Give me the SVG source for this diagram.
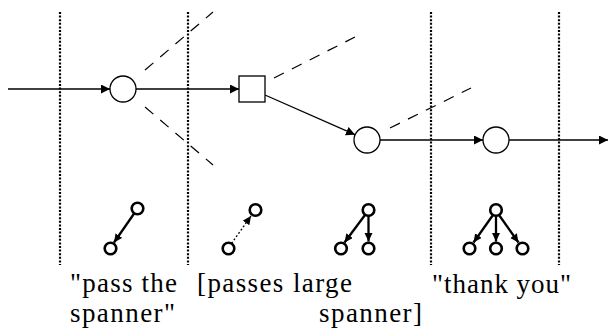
<svg xmlns="http://www.w3.org/2000/svg" width="609" height="333" viewBox="0 0 609 333">
<style>
.div{stroke:#000;stroke-width:2.2;stroke-dasharray:2 1.6;fill:none}
.edge{stroke:#000;stroke-width:1.3;fill:none}
.dash{stroke:#000;stroke-width:1.2;stroke-dasharray:11 9;fill:none}
.node{fill:#fff;stroke:#000;stroke-width:1.3}
.tn{fill:#fff;stroke:#000;stroke-width:2.6}
.ta{stroke:#000;stroke-width:2.3;fill:none}
.td{stroke:#000;stroke-width:1.3;stroke-dasharray:2 2;fill:none}
.lbl{font-family:"Liberation Serif","Times New Roman",serif;font-size:27px;fill:#000}
</style>
<defs>
<marker id="ah" markerUnits="userSpaceOnUse" markerWidth="10" markerHeight="10" refX="9" refY="4.5" orient="auto">
<path d="M0,0 L9,4.5 L0,9 z" fill="#000"/>
</marker>
<marker id="sh" markerUnits="userSpaceOnUse" markerWidth="10" markerHeight="10" refX="8.5" refY="4" orient="auto">
<path d="M0,0 L8.5,4 L0,8 z" fill="#000"/>
</marker>
</defs>
<g id="dividers">
<line class="div" x1="60" y1="12" x2="60" y2="265"/>
<line class="div" x1="188" y1="12" x2="188" y2="265"/>
<line class="div" x1="431" y1="12" x2="431" y2="265"/>
<line class="div" x1="559" y1="12" x2="559" y2="265"/>
</g>
<g id="connectors">
<line class="edge" x1="8" y1="89" x2="110" y2="89" marker-end="url(#ah)"/>
<line class="edge" x1="136" y1="89" x2="239" y2="89" marker-end="url(#ah)"/>
<line class="edge" x1="265" y1="95" x2="355" y2="134.7" marker-end="url(#ah)"/>
<line class="edge" x1="380" y1="140" x2="483" y2="140" marker-end="url(#ah)"/>
<line class="edge" x1="509" y1="140" x2="608" y2="140" marker-end="url(#ah)"/>
<line class="dash" x1="145" y1="70" x2="213" y2="12"/>
<line class="dash" x1="145" y1="107" x2="213" y2="165"/>
<line class="dash" x1="274" y1="78" x2="355" y2="37"/>
<line class="dash" x1="390" y1="128" x2="471" y2="88"/>
</g>
<g id="n1"><circle class="node" cx="123" cy="89" r="13"/></g>
<g id="n2"><rect class="node" x="239" y="76" width="26" height="26"/></g>
<g id="n3"><circle class="node" cx="367" cy="140" r="13"/></g>
<g id="n4"><circle class="node" cx="496" cy="140" r="13"/></g>
<g id="tree1">
<line class="ta" x1="134.5" y1="213" x2="114" y2="242.5" marker-end="url(#sh)"/>
<circle class="tn" cx="137.5" cy="208.5" r="5.8"/>
<circle class="tn" cx="110.5" cy="248.5" r="5.8"/>
</g>
<g id="tree2">
<line class="td" x1="231.5" y1="243.5" x2="251" y2="216" marker-end="url(#sh)"/>
<circle class="tn" cx="228.5" cy="248.5" r="5.8"/>
<circle class="tn" cx="255.5" cy="210" r="5.8"/>
</g>
<g id="tree3">
<line class="ta" x1="365" y1="215" x2="344.5" y2="242.5" marker-end="url(#sh)"/>
<line class="ta" x1="368.5" y1="216" x2="368.5" y2="241.5" marker-end="url(#sh)"/>
<circle class="tn" cx="368.5" cy="210" r="5.8"/>
<circle class="tn" cx="341" cy="248.5" r="5.8"/>
<circle class="tn" cx="368.5" cy="248.5" r="5.8"/>
</g>
<g id="tree4">
<line class="ta" x1="493" y1="215" x2="473.5" y2="242.5" marker-end="url(#sh)"/>
<line class="ta" x1="496" y1="216" x2="496" y2="241.5" marker-end="url(#sh)"/>
<line class="ta" x1="499" y1="215" x2="518.5" y2="242.5" marker-end="url(#sh)"/>
<circle class="tn" cx="496" cy="210" r="5.8"/>
<circle class="tn" cx="469.5" cy="248.5" r="5.8"/>
<circle class="tn" cx="496" cy="248.5" r="5.8"/>
<circle class="tn" cx="522.5" cy="248.5" r="5.8"/>
</g>
<g id="labels">
<text class="lbl" x="70" y="292" textLength="107" lengthAdjust="spacing">"pass the</text>
<text class="lbl" x="70" y="322" textLength="105" lengthAdjust="spacing">spanner"</text>
<text class="lbl" x="197" y="292" textLength="155" lengthAdjust="spacing">[passes large</text>
<text class="lbl" x="319" y="322" textLength="103" lengthAdjust="spacing">spanner]</text>
<text class="lbl" x="432" y="293" textLength="139" lengthAdjust="spacing">"thank you"</text>
</g>
</svg>
